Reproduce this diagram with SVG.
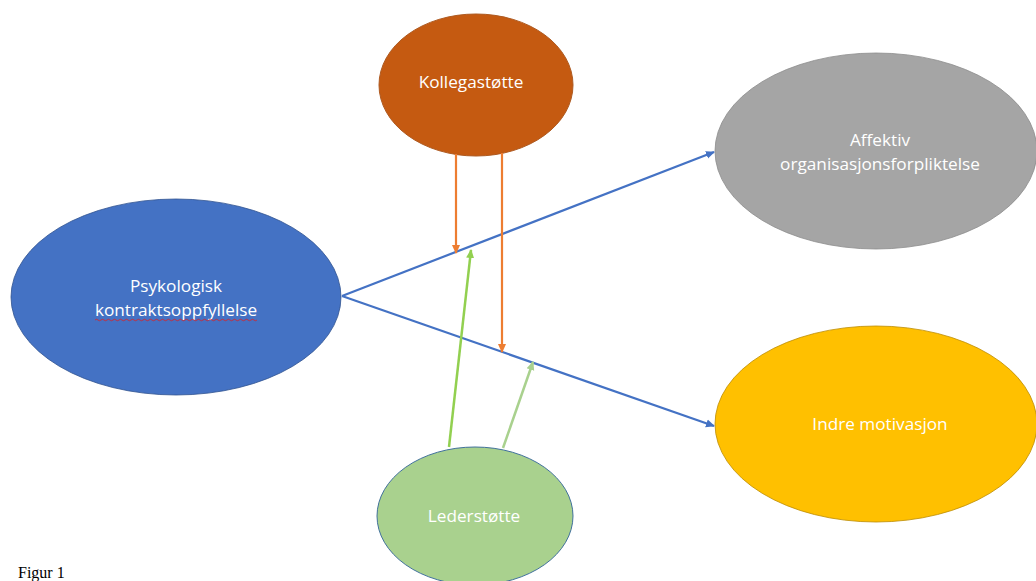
<svg xmlns="http://www.w3.org/2000/svg" width="1036" height="581" viewBox="0 0 1036 581">
<style>
.lbl{font-family:"Open Sans","Liberation Sans",sans-serif;font-size:17.2px;fill:#ffffff;text-anchor:middle}
.blue{stroke:#4472C4;stroke-width:2.2;fill:none}
.orange{stroke:#ED7D31;stroke-width:2.2;fill:none}
</style>
<defs>
<marker id="ab" markerWidth="10" markerHeight="10" refX="8" refY="5" orient="auto" markerUnits="userSpaceOnUse"><path d="M0,1 L9,5 L0,9 Z" fill="#4472C4"/></marker>
<marker id="ao" markerWidth="10" markerHeight="10" refX="8" refY="5" orient="auto" markerUnits="userSpaceOnUse"><path d="M0,1 L9,5 L0,9 Z" fill="#ED7D31"/></marker>
<marker id="ag" markerWidth="10" markerHeight="10" refX="8" refY="5" orient="auto" markerUnits="userSpaceOnUse"><path d="M0,1 L9,5 L0,9 Z" fill="#92D050"/></marker>
<marker id="alg" markerWidth="10" markerHeight="10" refX="8" refY="5" orient="auto" markerUnits="userSpaceOnUse"><path d="M0,1 L9,5 L0,9 Z" fill="#A9D18E"/></marker>
</defs>
<rect width="1036" height="581" fill="#ffffff"/>
<g id="node-kollega">
<ellipse cx="476" cy="85" rx="97" ry="71" fill="#C55A11" stroke="#AE5A21" stroke-width="1"/>
<text class="lbl" x="471" y="88">Kollegastøtte</text>
</g>
<g id="node-psyk">
<ellipse cx="176" cy="297" rx="165" ry="98" fill="#4472C4" stroke="#2F528F" stroke-width="0.8"/>
<text class="lbl" x="176" y="292">Psykologisk</text>
<text class="lbl" x="176" y="316">kontraktsoppfyllelse</text>
<path d="M95,320 q1.5,-1.5 3,0 t3,0 t3,0 t3,0 t3,0 t3,0 t3,0 t3,0 t3,0 t3,0 t3,0 t3,0 t3,0 t3,0 t3,0 t3,0 t3,0 t3,0 t3,0 t3,0 t3,0 t3,0 t3,0 t3,0 t3,0 t3,0 t3,0 t3,0 t3,0 t3,0 t3,0 t3,0 t3,0 t3,0 t3,0 t3,0 t3,0 t3,0 t3,0 t3,0 t3,0 t3,0 t3,0 t3,0 t3,0 t3,0 t3,0 t3,0 t3,0 t3,0 t3,0 t3,0 t3,0 t3,0" fill="none" stroke="#E02020" stroke-width="0.8"/>
</g>
<g id="node-affektiv">
<ellipse cx="876" cy="151" rx="161" ry="98" fill="#A5A5A5" stroke="#8C8C8C" stroke-width="0.8"/>
<text class="lbl" x="880" y="146">Affektiv</text>
<text class="lbl" x="880" y="170">organisasjonsforpliktelse</text>
</g>
<g id="node-indre">
<ellipse cx="876" cy="424" rx="161" ry="98" fill="#FFC000" stroke="#BC8C00" stroke-width="0.8"/>
<text class="lbl" x="880" y="430">Indre motivasjon</text>
</g>
<g id="node-leder">
<ellipse cx="475" cy="516" rx="98" ry="69" fill="#A9D18E" stroke="#41719C" stroke-width="1"/>
<text class="lbl" x="474" y="522">Lederstøtte</text>
</g>
<g id="connectors">
<line class="blue" x1="342" y1="296" x2="714" y2="152" marker-end="url(#ab)"/>
<line class="blue" x1="342" y1="296" x2="714" y2="426" marker-end="url(#ab)"/>
<line class="orange" x1="456" y1="154" x2="456" y2="253" marker-end="url(#ao)"/>
<line class="orange" x1="502" y1="153" x2="502" y2="352" marker-end="url(#ao)"/>
<line x1="449" y1="447" x2="471" y2="250" stroke="#92D050" stroke-width="2.5" marker-end="url(#ag)"/>
<line x1="503" y1="448" x2="533" y2="362" stroke="#A9D18E" stroke-width="2.5" marker-end="url(#alg)"/>
</g>
<text x="18" y="578" font-family="Liberation Serif, serif" font-size="16" fill="#000000">Figur 1</text>
</svg>
